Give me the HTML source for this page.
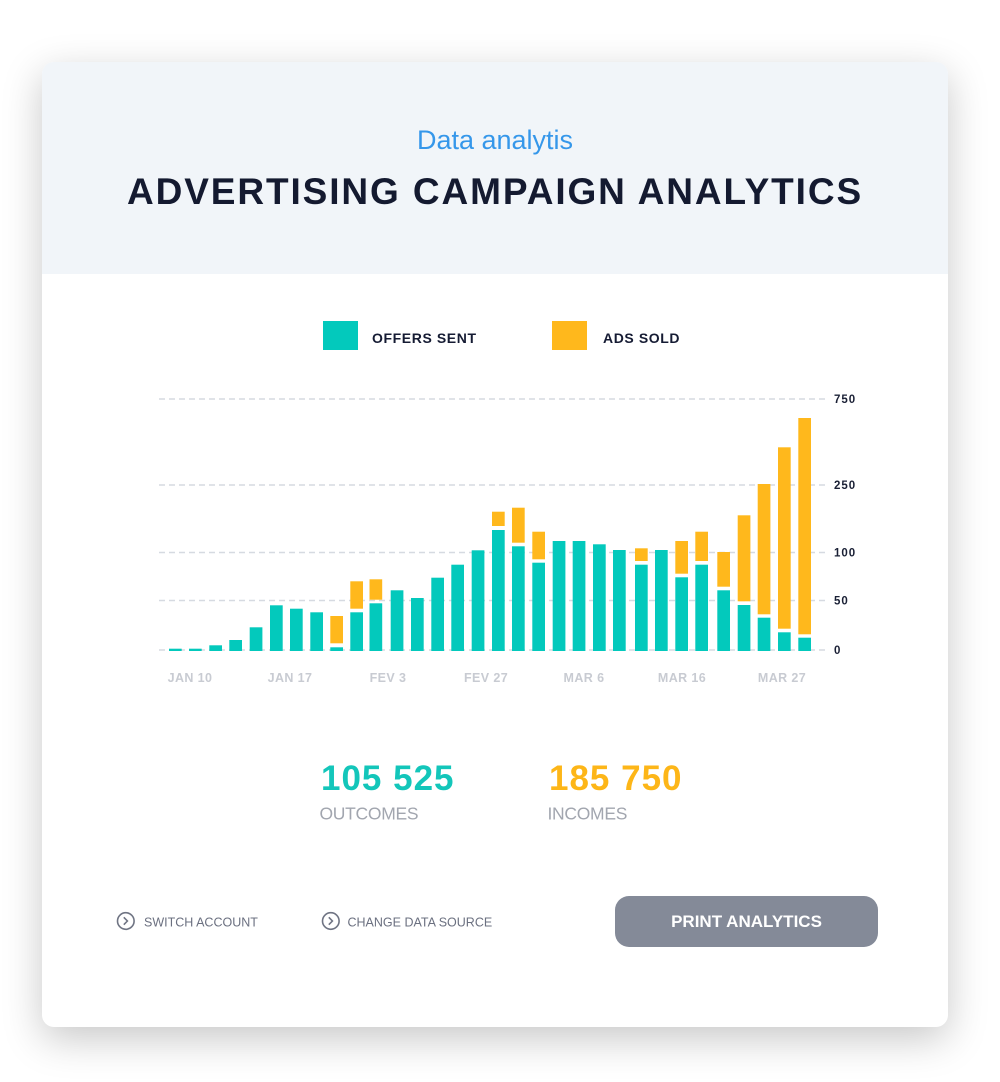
<!DOCTYPE html>
<html>
<head>
<meta charset="utf-8">
<style>
  html, body { margin:0; padding:0; background:#ffffff; }
  body { width:1000px; height:1082px; position:relative; overflow:hidden; font-family:"Liberation Sans", sans-serif; }
  .card { position:absolute; left:42px; top:62px; width:906px; height:965px; background:#ffffff; border-radius:12px;
          box-shadow:0 12px 40px rgba(0,0,0,0.22); overflow:hidden; }
  .head { position:absolute; left:0; top:0; width:906px; height:212px; background:#f1f5f9; }
  .abs { position:absolute; white-space:nowrap; }
  .sub { left:0; width:906px; text-align:center; top:65px; font-size:27px; line-height:27px; color:#3597ea; }
  .title { left:0; width:906px; text-align:center; top:110.5px; font-size:37px; line-height:37px; font-weight:bold; color:#141a30; letter-spacing:1.9px; }
</style>
</head>
<body>
<div class="card">
  <div class="head"></div>
  <div class="abs sub">Data analytis</div>
  <div class="abs title">ADVERTISING CAMPAIGN ANALYTICS</div>
</div>

<svg width="1000" height="1082" style="position:absolute;left:0;top:0" xmlns="http://www.w3.org/2000/svg">
  <!-- legend -->
  <rect x="323" y="321" width="35" height="29" fill="#03c9bc"/>
  <rect x="552" y="321" width="35" height="29" fill="#ffb81c"/>
  <text x="372" y="343" font-family="Liberation Sans, sans-serif" font-weight="bold" font-size="14" letter-spacing="0.6" fill="#151b33">OFFERS SENT</text>
  <text x="603" y="343" font-family="Liberation Sans, sans-serif" font-weight="bold" font-size="14" letter-spacing="0.6" fill="#151b33">ADS SOLD</text>

  <!-- grid -->
  <g stroke="#d6dae1" stroke-width="1.5" stroke-dasharray="6 4">
    <line x1="159" y1="399" x2="826" y2="399"/>
    <line x1="159" y1="485" x2="826" y2="485"/>
    <line x1="159" y1="552.5" x2="826" y2="552.5"/>
    <line x1="159" y1="600.5" x2="826" y2="600.5"/>
    <line x1="159" y1="650" x2="826" y2="650"/>
  </g>

  <!-- y labels -->
  <g font-family="Liberation Sans, sans-serif" font-weight="bold" font-size="11.5" letter-spacing="1" fill="#1a2035">
    <text x="834" y="403">750</text>
    <text x="834" y="489">250</text>
    <text x="834" y="556.5">100</text>
    <text x="834" y="604.5">50</text>
    <text x="834" y="654">0</text>
  </g>

  <!-- x labels -->
  <g font-family="Liberation Sans, sans-serif" font-weight="bold" font-size="12.5" letter-spacing="0.4" fill="#c8cbd2" text-anchor="middle">
    <text x="190" y="682">JAN 10</text>
    <text x="290" y="682">JAN 17</text>
    <text x="388" y="682">FEV 3</text>
    <text x="486" y="682">FEV 27</text>
    <text x="584" y="682">MAR 6</text>
    <text x="682" y="682">MAR 16</text>
    <text x="782" y="682">MAR 27</text>
  </g>

  <!-- teal bars -->
  <g fill="#03c9bc">
    <rect x="169" y="648.7" width="12.7" height="2.3"/>
    <rect x="189" y="648.7" width="12.7" height="2.3"/>
    <rect x="209.3" y="645.3" width="12.7" height="5.7"/>
    <rect x="229.3" y="640" width="12.7" height="11"/>
    <rect x="249.7" y="627.3" width="12.7" height="23.7"/>
    <rect x="270" y="605.3" width="12.7" height="45.7"/>
    <rect x="290" y="608.7" width="12.7" height="42.3"/>
    <rect x="310.3" y="612.3" width="12.7" height="38.7"/>
    <rect x="330.3" y="647.3" width="12.7" height="3.7"/>
    <rect x="350.3" y="612.3" width="12.7" height="38.7"/>
    <rect x="369.5" y="603.3" width="12.7" height="47.7"/>
    <rect x="390.7" y="590.3" width="12.7" height="60.7"/>
    <rect x="411" y="598" width="12.7" height="53"/>
    <rect x="431.3" y="577.7" width="12.7" height="73.3"/>
    <rect x="451.3" y="564.7" width="12.7" height="86.3"/>
    <rect x="471.7" y="550.3" width="12.7" height="100.7"/>
    <rect x="492" y="530" width="12.7" height="121"/>
    <rect x="512" y="546.3" width="12.7" height="104.7"/>
    <rect x="532.3" y="562.7" width="12.7" height="88.3"/>
    <rect x="552.7" y="541" width="12.7" height="110"/>
    <rect x="572.7" y="541" width="12.7" height="110"/>
    <rect x="593" y="544.3" width="12.7" height="106.7"/>
    <rect x="613" y="550" width="12.7" height="101"/>
    <rect x="635" y="564.7" width="12.7" height="86.3"/>
    <rect x="655" y="550" width="12.7" height="101"/>
    <rect x="675.3" y="577.3" width="12.7" height="73.7"/>
    <rect x="695.3" y="564.7" width="12.7" height="86.3"/>
    <rect x="717.3" y="590.3" width="12.7" height="60.7"/>
    <rect x="737.7" y="605" width="12.7" height="46"/>
    <rect x="757.7" y="617.7" width="12.7" height="33.3"/>
    <rect x="778" y="632.3" width="12.7" height="18.7"/>
    <rect x="798.3" y="637.7" width="12.7" height="13.3"/>
  </g>
  <!-- orange bars -->
  <g fill="#ffb81c">
    <rect x="330.3" y="616" width="12.7" height="27.3"/>
    <rect x="350.3" y="581.3" width="12.7" height="27.4"/>
    <rect x="369.5" y="579.3" width="12.7" height="20.4"/>
    <rect x="492" y="511.7" width="12.7" height="14.3"/>
    <rect x="512" y="507.7" width="12.7" height="35"/>
    <rect x="532.3" y="531.7" width="12.7" height="27.6"/>
    <rect x="635" y="548.3" width="12.7" height="12.7"/>
    <rect x="675.3" y="541" width="12.7" height="32.7"/>
    <rect x="695.3" y="531.7" width="12.7" height="29.3"/>
    <rect x="717.3" y="552" width="12.7" height="34.7"/>
    <rect x="737.7" y="515.3" width="12.7" height="86"/>
    <rect x="757.7" y="484" width="12.7" height="130.3"/>
    <rect x="778" y="447.3" width="12.7" height="181.4"/>
    <rect x="798.3" y="418" width="12.7" height="216.3"/>
  </g>

  <!-- numbers -->
  <text x="321" y="790" font-family="Liberation Sans, sans-serif" font-weight="bold" font-size="35" letter-spacing="1" fill="#13c6ba">105 525</text>
  <text x="549" y="790" font-family="Liberation Sans, sans-serif" font-weight="bold" font-size="35" letter-spacing="1" fill="#fdb618">185 750</text>
  <text x="319.5" y="819.5" font-family="Liberation Sans, sans-serif" font-size="17.5" letter-spacing="-0.3" fill="#a2a6af">OUTCOMES</text>
  <text x="547.5" y="819.5" font-family="Liberation Sans, sans-serif" font-size="17.5" letter-spacing="-0.3" fill="#a2a6af">INCOMES</text>

  <!-- footer links -->
  <circle cx="125.8" cy="921" r="8.3" fill="none" stroke="#6f7483" stroke-width="1.6"/>
  <path d="M123.8 917.3 L127.4 921 L123.8 924.7" fill="none" stroke="#6f7483" stroke-width="1.6"/>
  <text x="144" y="926.5" font-family="Liberation Sans, sans-serif" font-size="12.5" fill="#6b7080">SWITCH ACCOUNT</text>
  <circle cx="330.8" cy="921" r="8.3" fill="none" stroke="#6f7483" stroke-width="1.6"/>
  <path d="M328.8 917.3 L332.4 921 L328.8 924.7" fill="none" stroke="#6f7483" stroke-width="1.6"/>
  <text x="347.5" y="926.5" font-family="Liberation Sans, sans-serif" font-size="12.5" fill="#6b7080">CHANGE DATA SOURCE</text>

  <!-- button -->
  <rect x="615" y="896" width="263" height="51" rx="14" ry="14" fill="#848a98"/>
  <text x="746.5" y="927" text-anchor="middle" font-family="Liberation Sans, sans-serif" font-weight="bold" font-size="17" fill="#ffffff">PRINT ANALYTICS</text>
</svg>
</body>
</html>
